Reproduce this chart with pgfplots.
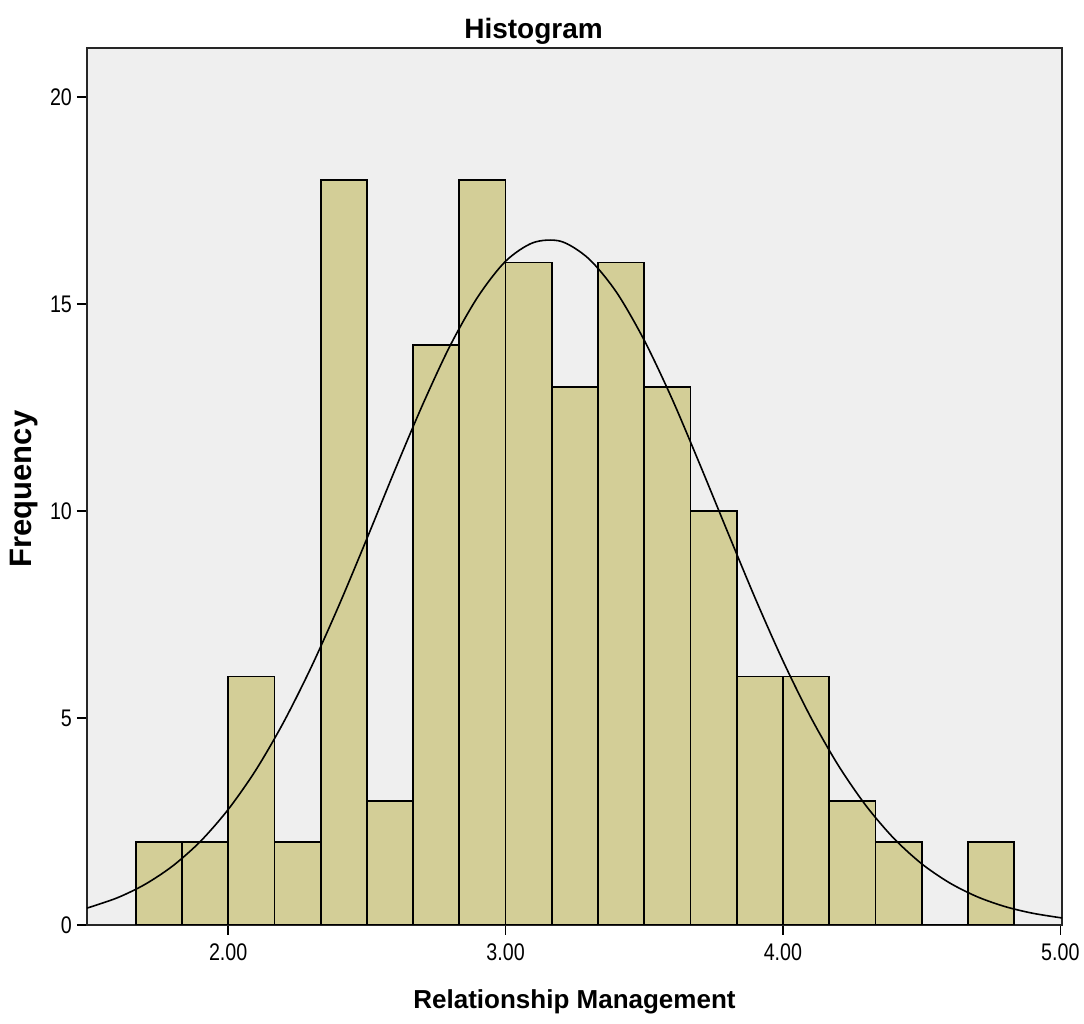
\documentclass[border=0pt]{standalone}
\usepackage{fontspec}
\setmainfont{Liberation Sans}
\newfontfamily\narrowfont[FakeStretch=0.82]{Liberation Sans}
\usepackage{pgfplots}
\pgfplotsset{compat=1.18}
\definecolor{barfill}{HTML}{D3CE97}
\definecolor{bgfill}{HTML}{EFEFEF}
\begin{document}
\begin{tikzpicture}
\begin{axis}[
  name=ax,
  scale only axis,
  width=487.5pt, height=438.5pt,
  xmin=1.491, xmax=5.006,
  ymin=0, ymax=21.18,
  axis background/.style={fill=bgfill},
  axis line style={black!85, line width=0.8pt},
  xtick={2,3,4,5},
  ytick={0,5,10,15,20},
  tick align=outside,
  xtick pos=bottom, ytick pos=left,
  major tick length=5pt,
  tick style={black, line width=0.8pt},
  xticklabel style={/pgf/number format/fixed, /pgf/number format/fixed zerofill, /pgf/number format/precision=2, yshift=-1pt},
  /pgf/number format/assume math mode=true,
  ticklabel style={font=\narrowfont\fontsize{12}{14}\selectfont},
  yticklabel style={xshift=1pt},
  title={\textbf{Histogram}},
  title style={at={(axis description cs:0.458,1)}, anchor=base, yshift=-1.5pt, font=\fontsize{14}{16}\selectfont},
  xlabel={\textbf{Relationship Management}},
  xlabel style={at={(axis description cs:0.5,0)}, anchor=center, yshift=-38.5pt, font=\fontsize{13}{15}\selectfont},
  ylabel={\textbf{Frequency}},
  ylabel style={at={(axis description cs:0,0.497)}, anchor=center, yshift=31.5pt, font=\fontsize{15.5}{17}\selectfont},
]
\addplot[ybar interval, fill=barfill, draw=black, line width=0.9pt] coordinates {
(1.6667,2) (1.8333,2) (2.0,6) (2.1667,2) (2.3333,18) (2.5,3) (2.6667,14)
(2.8333,18) (3.0,16) (3.1667,13) (3.3333,16) (3.5,13) (3.6667,10)
(3.8333,6) (4.0,6) (4.1667,3) (4.3333,2) (4.5,0) (4.6667,2) (4.8333,2)
};
\addplot[smooth, black, line width=0.8pt] coordinates {
(1.491,0.408) (1.6,0.656) (1.7,0.981) (1.8,1.426) (1.9,2.02) (2.0,2.79)
(2.1,3.745) (2.2,4.90) (2.3,6.236) (2.4,7.73) (2.5,9.33) (2.6,10.97)
(2.7,12.55) (2.8,13.99) (2.9,15.17) (3.0,16.03) (3.1,16.48)
(3.2,16.51) (3.3,16.09) (3.4,15.28) (3.5,14.12) (3.6,12.71) (3.7,11.13)
(3.8,9.50) (3.9,7.89) (4.0,6.38) (4.1,5.02) (4.2,3.85) (4.3,2.876)
(4.4,2.09) (4.5,1.479) (4.6,1.02) (4.7,0.683) (4.8,0.446) (4.9,0.284)
(5.006,0.17)
};
\end{axis}
\pgfresetboundingbox
\path (ax.south west) ++(-43.5pt,-49.5pt) rectangle ([shift={(11pt,24pt)}]ax.north east);
\end{tikzpicture}
\end{document}
